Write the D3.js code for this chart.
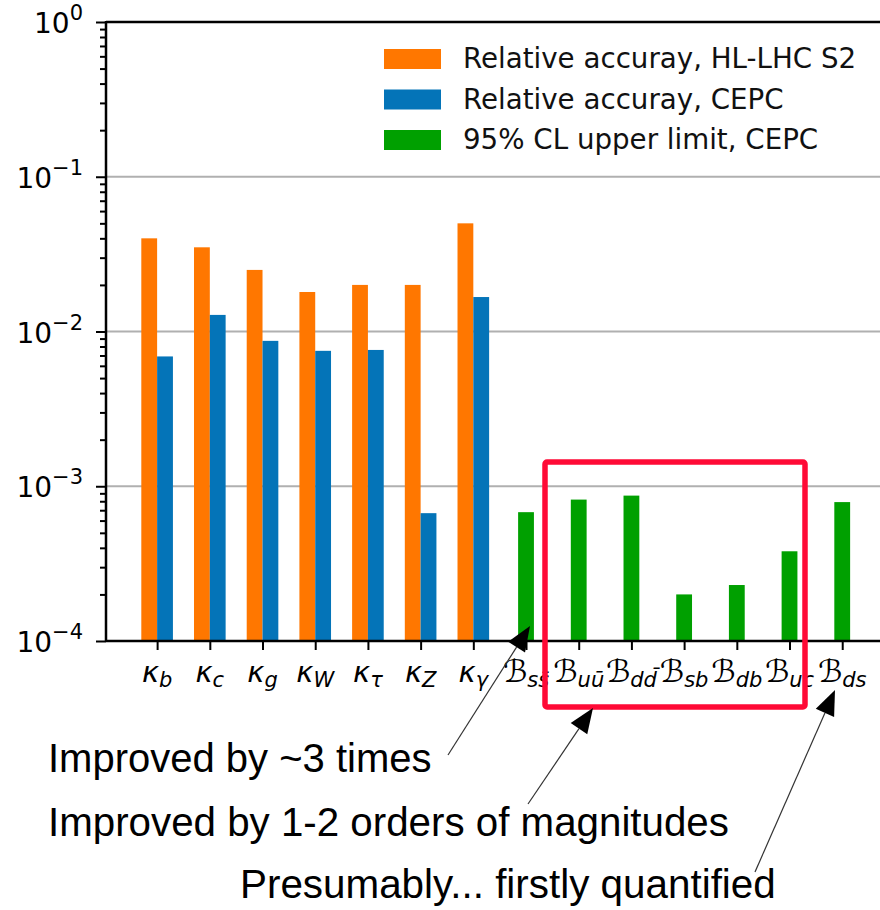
<!DOCTYPE html>
<html>
<head>
<meta charset="utf-8">
<script src="https://cdn.jsdelivr.net/npm/d3@7"></script>
<style>
  html, body { margin: 0; padding: 0; background: #fff; }
  svg { display: block; }
</style>
</head>
<body>
<svg id="chart" width="880" height="910"></svg>
<script>
// Categories: coupling modifiers and rare-decay branching ratios
const categories = ["kb", "kc", "kg", "kW", "ktau", "kZ", "kgamma",
                    "Bss", "Buu", "Bdd", "Bsb", "Bdb", "Buc", "Bds"];
// Tick label pieces: main symbol + subscript
const tickSymbols = ["κ", "κ", "κ", "κ", "κ", "κ", "κ", "ℬ", "ℬ", "ℬ", "ℬ", "ℬ", "ℬ", "ℬ"];
const tickSubs = ["b", "c", "g", "W", "τ", "Z", "γ", "ss̄", "uū", "dd̄", "sb", "db", "uc", "ds"];

// Relative accuracy at HL-LHC S2 (kappa couplings)
const hllhc = [0.040, 0.035, 0.025, 0.018, 0.020, 0.020, 0.050];
// Relative accuracy at CEPC (kappa couplings)
const cepc = [0.0069, 0.0128, 0.0087, 0.0075, 0.0076, 0.00067, 0.0167];
// 95% CL upper limits at CEPC (branching ratios, categories 7..13)
const upperLimit = [0.00068, 0.00082, 0.00087, 0.00020, 0.00023, 0.00038, 0.00079];

const yTickValues = [1e-4, 1e-3, 1e-2, 1e-1, 1];
const yTickExps = ["−4", "−3", "−2", "−1", "0"];

const legendItems = [
  { label: "Relative accuray, HL-LHC S2", color: "#ff7700" },
  { label: "Relative accuray, CEPC", color: "#0474b8" },
  { label: "95% CL upper limit, CEPC", color: "#00a000" }
];

const notes = [
  { text: "Improved by ~3 times", x: 48, y: 772, size: 40 },
  { text: "Improved by 1-2 orders of magnitudes", x: 48, y: 836, size: 40.3 },
  { text: "Presumably... firstly quantified", x: 240, y: 898, size: 40.4 }
];

const svg = d3.select("#chart");
const W = 880;
const plot = { left: 106, top: 22, bottom: 641 };

const x = d3.scaleLinear().domain([-0.97, 14]).range([plot.left, plot.left + 14.97 * 52.7]);
const y = d3.scaleLog().domain([1e-4, 1]).range([plot.bottom, plot.top]);
const barW = x(0.3) - x(0);

// Grid lines at the decades
svg.append("g").selectAll("line")
  .data(yTickValues.slice(1, 4))
  .join("line")
  .attr("x1", plot.left).attr("x2", W)
  .attr("y1", d => y(d)).attr("y2", d => y(d))
  .attr("stroke", "#b0b0b0").attr("stroke-width", 2);

// Bars
const bars = svg.append("g");
bars.selectAll("rect.hl")
  .data(hllhc)
  .join("rect")
  .attr("x", (d, i) => x(i) - barW)
  .attr("width", barW)
  .attr("y", d => y(d))
  .attr("height", d => plot.bottom - y(d))
  .attr("fill", legendItems[0].color);
bars.selectAll("rect.cepc")
  .data(cepc)
  .join("rect")
  .attr("x", (d, i) => x(i))
  .attr("width", barW)
  .attr("y", d => y(d))
  .attr("height", d => plot.bottom - y(d))
  .attr("fill", legendItems[1].color);
bars.selectAll("rect.ul")
  .data(upperLimit)
  .join("rect")
  .attr("x", (d, i) => x(i + 7) - barW / 2)
  .attr("width", barW)
  .attr("y", d => y(d))
  .attr("height", d => plot.bottom - y(d))
  .attr("fill", legendItems[2].color);

// Y axis: major and minor ticks
const minor = [];
for (let e = -4; e < 0; e++) for (let m = 2; m <= 9; m++) minor.push(m * Math.pow(10, e));
const yAxis = svg.append("g").attr("transform", `translate(${plot.left},0)`);
yAxis.call(d3.axisLeft(y).tickValues(minor).tickSize(6).tickFormat(""));
yAxis.append("g").call(d3.axisLeft(y).tickValues(yTickValues).tickSize(10).tickFormat(""));
yAxis.selectAll(".domain").remove();
yAxis.selectAll("line").attr("stroke", "#000").attr("stroke-width", 2);

// Y tick labels with exponents
const yl = svg.append("g").selectAll("text")
  .data(yTickValues)
  .join("text")
  .attr("x", 83)
  .attr("y", d => y(d) + 11)
  .attr("text-anchor", "end")
  .attr("font-family", "DejaVu Sans")
  .attr("font-size", 28)
  .attr("fill", "#000");
yl.append("tspan").text("10");
yl.append("tspan").attr("dy", -13).attr("font-size", 21).text((d, i) => yTickExps[i]);

// X axis ticks
const xAxis = svg.append("g").attr("transform", `translate(0,${plot.bottom})`);
xAxis.call(d3.axisBottom(x).tickValues(d3.range(categories.length)).tickSize(9).tickFormat(""));
xAxis.selectAll(".domain").remove();
xAxis.selectAll("line").attr("stroke", "#000").attr("stroke-width", 2);

// X tick labels: symbol with italic subscript
const xl = svg.append("g").selectAll("text")
  .data(categories)
  .join("text")
  .attr("x", (d, i) => x(i))
  .attr("y", 682)
  .attr("text-anchor", "middle")
  .attr("font-family", "DejaVu Sans")
  .attr("font-style", "italic")
  .attr("fill", "#000");
xl.append("tspan").attr("font-size", (d, i) => i < 7 ? 29 : 31).text((d, i) => tickSymbols[i]);
xl.append("tspan").attr("font-size", 21).attr("dy", 5).text((d, i) => tickSubs[i]);

// Spines
svg.append("line").attr("x1", plot.left).attr("x2", W).attr("y1", plot.top).attr("y2", plot.top)
  .attr("stroke", "#000").attr("stroke-width", 2.5);
svg.append("line").attr("x1", plot.left).attr("x2", W).attr("y1", plot.bottom).attr("y2", plot.bottom)
  .attr("stroke", "#000").attr("stroke-width", 2.5);
svg.append("line").attr("x1", plot.left).attr("x2", plot.left).attr("y1", plot.top - 1).attr("y2", plot.bottom + 1)
  .attr("stroke", "#000").attr("stroke-width", 2.5);

// Legend
const lg = svg.append("g").attr("transform", "translate(384,49)");
const li = lg.selectAll("g").data(legendItems).join("g")
  .attr("transform", (d, i) => `translate(0,${i * 40.5})`);
li.append("rect").attr("width", 57).attr("height", 20).attr("fill", d => d.color);
li.append("text").attr("x", 79).attr("y", 19)
  .attr("font-family", "DejaVu Sans").attr("font-size", 27.7).attr("fill", "#111")
  .text(d => d.label);

// Highlight box around the newly constrained branching ratios
svg.append("rect")
  .attr("x", 545).attr("y", 462).attr("width", 260).attr("height", 245)
  .attr("rx", 2)
  .attr("fill", "none").attr("stroke", "#ff0a36").attr("stroke-width", 5.5);

// Annotation arrows
const arrows = [
  { from: [448, 755], to: [530, 626] },
  { from: [528, 804], to: [593, 708] },
  { from: [755, 872], to: [835, 690] }
];
const ann = svg.append("g");
arrows.forEach(a => {
  const [x0, y0] = a.from, [x1, y1] = a.to;
  const dx = x1 - x0, dy = y1 - y0, L = Math.hypot(dx, dy);
  const ux = dx / L, uy = dy / L, px = -uy, py = ux;
  const hl = 25, hw = 10;
  const bx = x1 - ux * hl, by = y1 - uy * hl;
  ann.append("line").attr("x1", x0).attr("y1", y0).attr("x2", bx).attr("y2", by)
    .attr("stroke", "#333").attr("stroke-width", 1.2);
  ann.append("path")
    .attr("d", `M${x1},${y1}L${bx + px * hw},${by + py * hw}L${bx - px * hw},${by - py * hw}Z`)
    .attr("fill", "#000");
});

// Annotation texts
svg.append("g").selectAll("text").data(notes).join("text")
  .attr("x", d => d.x).attr("y", d => d.y)
  .attr("font-family", "Liberation Sans, Arial, sans-serif")
  .attr("font-size", d => d.size).attr("fill", "#000")
  .text(d => d.text);
</script>
</body>
</html>
